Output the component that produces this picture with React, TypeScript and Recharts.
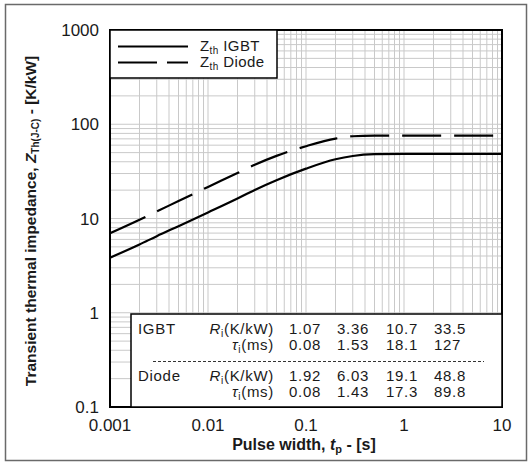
import React from "react";
import { LineChart, Line, XAxis, YAxis, CartesianGrid } from "recharts";

// pulse width tp [s] and Zth readings [K/kW]
const pulseWidth = [0.001, 0.002, 0.003, 0.005, 0.01, 0.02, 0.03, 0.05, 0.1, 0.2, 0.3, 0.5, 1, 2, 5, 10];
const zthIgbt = [3.84, 5.3, 6.5, 8.3, 11.6, 16.3, 20.1, 25.5, 33.8, 42.5, 46.0, 48.1, 48.6, 48.6, 48.6, 48.6];
const zthDiode = [6.97, 9.7, 11.9, 15.3, 21.6, 30.4, 37.2, 46.2, 58.5, 70.5, 74.6, 75.7, 75.8, 75.8, 75.8, 75.8];

const xMajor = [0.001, 0.01, 0.1, 1, 10];
const xTickLabels = ["0.001", "0.01", "0.1", "1", "10"];
const yMajor = [0.1, 1, 10, 100, 1000];
const yTickLabels = ["0.1", "1", "10", "100", "1000"];

// Foster model parameters printed in the inset table
const igbtR = ["1.07", "3.36", "10.7", "33.5"];
const igbtTau = ["0.08", "1.53", "18.1", "127"];
const diodeR = ["1.92", "6.03", "19.1", "48.8"];
const diodeTau = ["0.08", "1.43", "17.3", "89.8"];

const data = pulseWidth.map((t, i) => ({ t, igbt: zthIgbt[i], diode: zthDiode[i] }));

// log grid: 1..9 within each decade
function logTicks(majors: number[]) {
  const out: number[] = [];
  for (let d = 0; d < majors.length - 1; d++) {
    for (let k = 1; k < 10; k++) out.push(+(majors[d] * k).toPrecision(3));
  }
  out.push(majors[majors.length - 1]);
  return out;
}
const xTicks = logTicks(xMajor);
const yTicks = logTicks(yMajor);

const label = (majors: number[], names: string[]) => (v: number) => {
  const i = majors.findIndex((m) => Math.abs(m - v) / m < 1e-6);
  return i >= 0 ? names[i] : "";
};

const FONT = "'Liberation Sans', Arial, sans-serif";
const INK = "#1a1a1a";

// plot box (matches margins below)
const L = 110, T = 30, R = 502, B = 407;

function Row({ y, name, kind, vals }: { y: number; name?: string; kind: "R" | "tau"; vals: string[] }) {
  const cols = [289, 337, 386, 434];
  return (
    <g fontFamily={FONT} fontSize={15} fill={INK} letterSpacing={0.7}>
      {name && <text x={138} y={y}>{name}</text>}
      {kind === "R" ? (
        <text x={274} y={y} textAnchor="end">
          <tspan fontStyle="italic">R</tspan>
          <tspan fontSize={10} dy={3}>i</tspan>
          <tspan dy={-3}>(K/kW)</tspan>
        </text>
      ) : (
        <text x={274} y={y} textAnchor="end">
          <tspan fontStyle="italic">τ</tspan>
          <tspan fontSize={10} dy={3}>i</tspan>
          <tspan dy={-3}>(ms)</tspan>
        </text>
      )}
      {vals.map((v, i) => (
        <text key={i} x={cols[i]} y={y}>{v}</text>
      ))}
    </g>
  );
}

export default function App() {
  return (
    <div style={{ width: 530, height: 463, position: "relative", background: "#fff" }}>
      <style>{"body{margin:0}"}</style>
      <LineChart
        width={530}
        height={463}
        data={data}
        margin={{ top: T, right: 530 - R, bottom: 26, left: 10 }}
      >
        <CartesianGrid stroke="#c9c9c9" strokeWidth={1} />
        <XAxis
          dataKey="t"
          type="number"
          scale="log"
          domain={[0.001, 10]}
          allowDataOverflow
          ticks={xTicks}
          interval={0}
          tickFormatter={label(xMajor, xTickLabels)}
          tickLine={false}
          axisLine={false}
          tickSize={6}
          tickMargin={6}
          height={463 - B - 26}
          tick={{ fill: INK, fontSize: 17, fontFamily: FONT }}
        />
        <YAxis
          type="number"
          scale="log"
          domain={[0.1, 1000]}
          allowDataOverflow
          ticks={yTicks}
          interval={0}
          tickFormatter={label(yMajor, yTickLabels)}
          tickLine={false}
          axisLine={false}
          tickSize={6}
          tickMargin={5}
          width={L - 10}
          tick={{ fill: INK, fontSize: 17, fontFamily: FONT }}
        />
        <Line
          dataKey="igbt"
          type="monotone"
          stroke="#000"
          strokeWidth={2.2}
          dot={false}
          isAnimationActive={false}
        />
        <Line
          dataKey="diode"
          type="monotone"
          stroke="#000"
          strokeWidth={2.2}
          strokeDasharray="39 13"
          dot={false}
          isAnimationActive={false}
        />

        {/* plot frame */}
        <rect x={L} y={T} width={R - L} height={B - T} fill="none" stroke="#000" strokeWidth={2} />

        {/* legend box */}
        <g>
          <rect x={L} y={T} width={167} height={48} fill="#fff" stroke="#000" strokeWidth={1.5} />
          <line x1={118} x2={188} y1={46.5} y2={46.5} stroke="#000" strokeWidth={2} />
          <line x1={118} x2={188} y1={62.5} y2={62.5} stroke="#000" strokeWidth={2} strokeDasharray="39 10" />
          <text x={200} y={51} fontFamily={FONT} fontSize={15} fill={INK} letterSpacing={0.4}>
            Z<tspan fontSize={10} dy={3}>th</tspan>
            <tspan dy={-3}> IGBT</tspan>
          </text>
          <text x={200} y={67} fontFamily={FONT} fontSize={15} fill={INK} letterSpacing={0.4}>
            Z<tspan fontSize={10} dy={3}>th</tspan>
            <tspan dy={-3}> Diode</tspan>
          </text>
        </g>

        {/* Foster parameter table */}
        <g>
          <rect x={131} y={314} width={R - 131} height={B - 314} fill="#fff" stroke="#000" strokeWidth={1.5} />
          <Row y={334} name="IGBT" kind="R" vals={igbtR} />
          <Row y={349.5} kind="tau" vals={igbtTau} />
          <line x1={153} x2={484} y1={361.5} y2={361.5} stroke="#333" strokeWidth={1} strokeDasharray="3 2" />
          <Row y={381} name="Diode" kind="R" vals={diodeR} />
          <Row y={396.5} kind="tau" vals={diodeTau} />
        </g>

        {/* axis titles */}
        <text
          transform="translate(36,221) rotate(-90)"
          textAnchor="middle"
          fontFamily={FONT}
          fontWeight="bold"
          fontSize={15.5}
          fill={INK}
        >
          Transient thermal impedance, <tspan fontStyle="italic">Z</tspan>
          <tspan fontSize={10} dy={3}>Th(J-C)</tspan>
          <tspan dy={-3}> - [K/kW]</tspan>
        </text>
        <text x={304} y={450} textAnchor="middle" fontFamily={FONT} fontWeight="bold" fontSize={16} fill={INK}>
          Pulse width, <tspan fontStyle="italic">t</tspan>
          <tspan fontSize={11} dy={3}>p</tspan>
          <tspan dy={-3}> - [s]</tspan>
        </text>

        {/* outer frame */}
        <rect x={5.5} y={4.5} width={521} height={456} fill="none" stroke="#6a6a6a" strokeWidth={1.5} />
      </LineChart>
    </div>
  );
}
